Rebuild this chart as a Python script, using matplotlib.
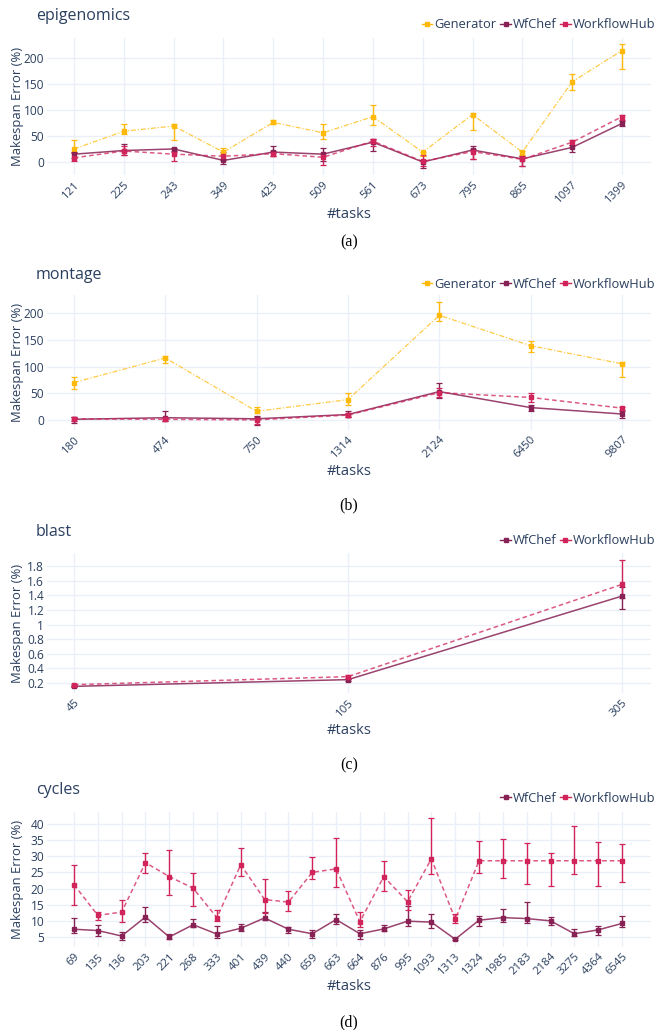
import numpy as np
import matplotlib
matplotlib.use("Agg")
import matplotlib.pyplot as plt
from matplotlib.lines import Line2D

plt.rcParams['font.family'] = ['Open Sans', 'DejaVu Sans']

# ---------------- data ----------------
epi_tasks = ["121", "225", "243", "349", "423", "509", "561", "673", "795", "865", "1097", "1399"]
epi_gen = [25, 59, 69, 19, 76, 56, 87, 19, 91, 19, 154, 214]
epi_gen_hi = [42, 73, 72, 27, 81, 73, 110, 20, 94, 22, 169, 227]
epi_gen_lo = [20, 53, 42, 16, 72, 44, 71, 12, 62, 14, 138, 178]
epi_wfc = [15, 22, 25, 3, 19, 15, 38, 0, 23, 6, 28, 74]
epi_wfc_hi = [20, 35, 27, 6, 30, 27, 44, 4, 31, 12, 33, 78]
epi_wfc_lo = [8, 14, 22, -3, 12, 1, 22, -12, 6, -7, 20, 70]
epi_wfh = [8, 21, 15, 11, 16, 9, 40, 1, 20, 5, 38, 87]
epi_wfh_hi = [17, 30, 20, 20, 22, 17, 44, 14, 25, 11, 42, 91]
epi_wfh_lo = [1, 14, 1, 4, 11, -5, 30, -8, 6, -8, 33, 81]

mon_tasks = ["180", "474", "750", "1314", "2124", "6450", "9807"]
mon_gen = [70, 116, 16, 38, 196, 139, 105]
mon_gen_hi = [81, 119, 25, 51, 221, 148, 109]
mon_gen_lo = [58, 106, 12, 28, 186, 128, 80]
mon_wfc = [1, 4, 2, 10, 53, 23, 11]
mon_wfc_hi = [6, 16, 7.5, 16, 69, 27, 16]
mon_wfc_lo = [-5, -3, -9, 6, 41, 17, 3]
mon_wfh = [2, 1, 0, 9, 51, 42, 22]
mon_wfh_hi = [6, 4, 5, 12, 59, 50, 25]
mon_wfh_lo = [-2, -3, -8, 6, 42, 34, 18]

bla_tasks = ["45", "105", "305"]
bla_wfc = [0.154, 0.246, 1.39]
bla_wfc_hi = [0.165, 0.26, 1.52]
bla_wfc_lo = [0.145, 0.232, 1.21]
bla_wfh = [0.177, 0.287, 1.55]
bla_wfh_hi = [0.19, 0.31, 1.88]
bla_wfh_lo = [0.165, 0.265, 1.37]

cyc_tasks = ["69", "135", "136", "203", "221", "268", "333", "401", "439", "440", "659", "663",
             "664", "876", "995", "1093", "1313", "1324", "1985", "2183", "2184", "3275", "4364", "6545"]
cyc_wfc = [7.4, 7.0, 5.3, 11.2, 5.0, 8.8, 5.9, 7.7, 10.9, 7.4, 6.0, 10.4,
           6.0, 7.5, 9.9, 9.6, 4.3, 10.2, 11.0, 10.7, 10.0, 6.0, 7.2, 9.2]
cyc_wfc_hi = [11.0, 8.8, 6.6, 14.2, 5.9, 10.7, 8.4, 9.1, 12.7, 8.1, 7.1, 12.0,
              7.2, 8.7, 14.6, 12.0, 4.6, 11.6, 13.7, 15.7, 11.2, 7.5, 8.3, 11.6]
cyc_wfc_lo = [6.2, 5.2, 4.0, 9.7, 4.5, 8.0, 4.8, 7.0, 10.2, 6.3, 4.8, 9.0,
              4.5, 6.9, 8.4, 7.9, 4.0, 8.3, 9.6, 9.2, 8.6, 5.4, 5.7, 8.1]
cyc_wfh = [21.2, 11.7, 12.7, 28.0, 23.7, 20.1, 11.0, 27.4, 16.6, 15.8, 25.0, 26.1,
           9.7, 23.7, 15.9, 29.2, 10.5, 28.6, 28.6, 28.6, 28.6, 28.6, 28.6, 28.6]
cyc_wfh_hi = [27.4, 12.7, 16.6, 30.9, 32.0, 24.7, 13.5, 32.7, 22.9, 19.3, 29.7, 35.8,
              12.6, 28.6, 19.6, 41.9, 12.0, 34.6, 35.3, 34.2, 30.9, 39.3, 34.3, 33.8]
cyc_wfh_lo = [14.9, 10.2, 9.6, 24.7, 18.0, 14.5, 9.9, 23.9, 12.5, 13.2, 22.9, 20.6,
              8.1, 19.3, 13.3, 24.6, 9.2, 24.7, 23.3, 21.4, 20.8, 24.5, 20.8, 22.1]

# ---------------- style ----------------
W, H = 654, 1030
TXT = "#2a3f5f"
GRID = "#ebf0f8"
C_GEN = "#ffb90a"
C_WFC = "#882255"
C_WFH = "#d0245a"

fig = plt.figure(figsize=(W / 100, H / 100), dpi=100)

LEFT, RIGHT = 47, 651
FIRST, LAST = 74, 622


def px_axes(top, bottom):
    return fig.add_axes([LEFT / W, 1 - bottom / H, (RIGHT - LEFT) / W, (bottom - top) / H])


def series(ax, x, y, hi, lo, color, ls, lw, alpha, label):
    y = np.asarray(y, float)
    hi = np.asarray(hi, float)
    lo = np.asarray(lo, float)
    ax.plot(x, y, color=color, ls=ls, lw=lw, alpha=alpha, zorder=2)
    ax.errorbar(x, y, yerr=[y - lo, hi - y], fmt='s', ms=2.2, color=color,
                ecolor=color, elinewidth=1.0, capsize=2.2, capthick=0.9, zorder=3)
    return Line2D([0], [0], color=color, ls='-', lw=1.0, marker='s', ms=2.2, label=label)


def panel(top, bottom, cats, yticks, ylim, ylabels, ser, title, caption, title_y, leg_y, xl_y, cap_y):
    ax = px_axes(top, bottom)
    n = len(cats)
    x = np.arange(n)
    s = (LAST - FIRST) / (n - 1)
    ax.set_xlim(-(FIRST - LEFT) / s, (n - 1) + (RIGHT - LAST) / s)
    ax.set_ylim(*ylim)
    for sp in ax.spines.values():
        sp.set_visible(False)
    ax.set_xticks(x)
    ax.set_xticklabels(cats, rotation=45, ha='right', rotation_mode='anchor')
    ax.set_yticks(yticks)
    ax.set_yticklabels(ylabels)
    ax.tick_params(axis='y', length=0, labelsize=8.6, colors=TXT, pad=2)
    ax.tick_params(axis='x', length=0, labelsize=8.2, colors=TXT, pad=3)
    ax.grid(True, color=GRID, lw=1.0)
    ax.set_axisbelow(True)
    handles = []
    for args in ser:
        handles.append(series(ax, x, *args))
    fig.text(18 / W, 1 - (top + bottom) / 2 / H, "Makespan Error (%)", rotation=90,
             ha='center', va='center', fontsize=9.4, color=TXT)
    fig.text(36 / W, 1 - title_y / H, title, ha='left', va='center', fontsize=11.5, color=TXT)
    fig.text((LEFT + RIGHT) / 2 / W, 1 - xl_y / H, "#tasks", ha='center', va='center',
             fontsize=10.6, color=TXT)
    fig.text((LEFT + RIGHT) / 2 / W, 1 - cap_y / H, caption, ha='center', va='center',
             fontsize=11.5, color='black', family='Liberation Serif')
    leg = ax.legend(handles=handles, loc='center right', bbox_to_anchor=(655 / W, 1 - leg_y / H),
                    bbox_transform=fig.transFigure, ncol=len(handles), frameon=False,
                    fontsize=9.3, handlelength=0.8, handletextpad=0.15, columnspacing=0.3,
                    borderpad=0, borderaxespad=0)
    for t in leg.get_texts():
        t.set_color(TXT)
    return ax


panel(38, 175, epi_tasks, [0, 50, 100, 150, 200], (-25, 238), ["0", "50", "100", "150", "200"],
      [(epi_gen, epi_gen_hi, epi_gen_lo, C_GEN, (0, (4, 1.5, 1, 1.5)), 0.9, 0.75, "Generator"),
       (epi_wfc, epi_wfc_hi, epi_wfc_lo, C_WFC, '-', 1.1, 0.85, "WfChef"),
       (epi_wfh, epi_wfh_hi, epi_wfh_lo, C_WFH, (0, (3, 2)), 1.1, 0.75, "WorkflowHub")],
      "epigenomics", "(a)", 16, 25, 214, 242)

panel(295, 430, mon_tasks, [0, 50, 100, 150, 200], (-19, 234), ["0", "50", "100", "150", "200"],
      [(mon_gen, mon_gen_hi, mon_gen_lo, C_GEN, (0, (4, 1.5, 1, 1.5)), 0.9, 0.75, "Generator"),
       (mon_wfc, mon_wfc_hi, mon_wfc_lo, C_WFC, '-', 1.1, 0.85, "WfChef"),
       (mon_wfh, mon_wfh_hi, mon_wfh_lo, C_WFH, (0, (3, 2)), 1.1, 0.75, "WorkflowHub")],
      "montage", "(b)", 275, 284, 471, 505)

bt = [0.2, 0.4, 0.6, 0.8, 1.0, 1.2, 1.4, 1.6, 1.8]
panel(553, 693, bla_tasks, bt, (0.063, 1.98), ["0.2", "0.4", "0.6", "0.8", "1", "1.2", "1.4", "1.6", "1.8"],
      [(bla_wfc, bla_wfc_hi, bla_wfc_lo, C_WFC, '-', 1.1, 0.85, "WfChef"),
       (bla_wfh, bla_wfh_hi, bla_wfh_lo, C_WFH, (0, (3, 2)), 1.1, 0.75, "WorkflowHub")],
      "blast", "(c)", 532, 541, 730, 765)

ct = [5, 10, 15, 20, 25, 30, 35, 40]
panel(812, 947, cyc_tasks, ct, (1.9, 43.7), [str(v) for v in ct],
      [(cyc_wfc, cyc_wfc_hi, cyc_wfc_lo, C_WFC, '-', 1.1, 0.85, "WfChef"),
       (cyc_wfh, cyc_wfh_hi, cyc_wfh_lo, C_WFH, (0, (3, 2)), 1.1, 0.75, "WorkflowHub")],
      "cycles", "(d)", 790, 798, 986, 1022)

fig.savefig("out.png", dpi=100, facecolor='white')
